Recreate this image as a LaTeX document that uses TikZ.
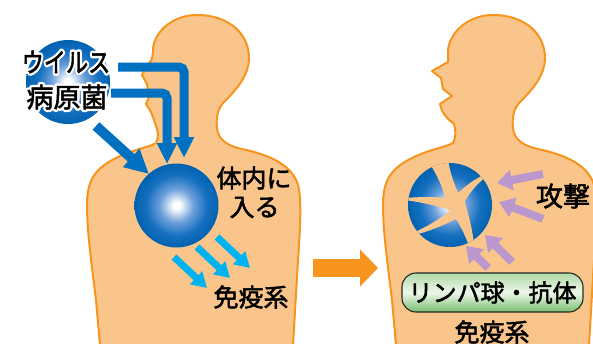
\documentclass[tikz,border=0pt]{standalone}
\usepackage{fontspec}
\newfontfamily\jp[FakeBold=2]{Noto Sans CJK JP}
\newfontfamily\jpplain{Noto Sans CJK JP}
\usetikzlibrary{arrows.meta}

\definecolor{skin}{RGB}{250,197,138}
\definecolor{skinline}{RGB}{247,148,30}
\definecolor{deepblue}{RGB}{0,112,192}
\definecolor{skyarrow}{RGB}{0,178,240}
\definecolor{lilac}{RGB}{186,152,206}
\definecolor{pushorange}{RGB}{247,148,30}
\definecolor{orbmid}{RGB}{110,160,218}
\definecolor{orbblue}{RGB}{22,112,192}
\definecolor{orbedge}{RGB}{0,98,176}
\definecolor{boxtop}{RGB}{175,218,165}
\definecolor{boxmid}{RGB}{238,247,234}
\definecolor{boxbot}{RGB}{118,190,108}

\pgfdeclareradialshading{orb}{\pgfpoint{0bp}{0bp}}{%
  color(0bp)=(white); color(2bp)=(white); color(10bp)=(orbmid);
  color(18bp)=(orbblue); color(25bp)=(orbedge); color(50bp)=(orbedge)}

% text with a white outline: a stroked white pass, then the normal black text
\newcommand\haloed[1]{%
  \makebox[0pt][l]{\jpplain\special{pdf:literal direct q 1 Tr 5.5 w 1 J 1 j 1 1 1 RG}#1\special{pdf:literal direct Q}}#1}

\begin{document}
\begin{tikzpicture}[x=1pt,y=-1pt,
  body/.style={fill=skin, draw=skinline, line width=2pt, line join=round},
  orbfill/.style={shading=orb},
  lbl/.style={font=\jp\fontsize{25}{30}\selectfont, inner sep=0pt, text=black},
  bigl/.style={font=\fontsize{27}{30}\selectfont\jp, inner sep=0pt, text=black},
  bluearrow/.style={draw=deepblue, line width=9pt, -{Triangle[length=21pt,width=19pt]}},
  diagarrow/.style={draw=deepblue, line width=10pt, -{Triangle[length=24pt,width=23pt]}},
  skyflow/.style={draw=skyarrow, line width=7pt, -{Triangle[length=15pt,width=17pt]}},
  lilacflow/.style={draw=lilac, line width=8pt, -{Triangle[length=15pt,width=20pt]}},
  pushflow/.style={draw=pushorange, line width=18pt, -{Triangle[length=18pt,width=36pt]}},
  greenbox/.style={draw=black!85, line width=1.1pt, rounded corners=14pt,
    top color=boxtop, bottom color=boxbot, middle color=boxmid,
    minimum width=181pt, minimum height=39pt, inner sep=0pt,
    font=\jp\fontsize{24}{28}\selectfont}
]
\useasboundingbox (0,0) rectangle (593,343);
\fill[white] (0,0) rectangle (593,343);

% left figure
\path[body] (100,345) -- (96,300) .. controls (91,260) and (87,230) .. (87,205)
  .. controls (87,180) and (95,168) .. (118,157)
  .. controls (135,149) and (150,147) .. (156,143)
  .. controls (159,138) and (158,131) .. (156,126)
  .. controls (154,120) .. (151,112) -- (146,104) -- (149,97) -- (148,90)
  -- (147,84) -- (142,75) -- (148,64) .. controls (152,60) .. (153,52)
  .. controls (152,35) and (170,15) .. (197,15)
  .. controls (230,15) and (250,35) .. (249,60)
  .. controls (248,75) and (238,88) .. (226,100)
  .. controls (217,108) and (216,118) .. (217,128)
  .. controls (218,140) and (228,146) .. (242,149)
  .. controls (270,155) and (292,165) .. (298,185)
  .. controls (302,200) and (300,230) .. (298,260) -- (293,345) -- cycle;

% right figure
\path[body] (396,345) -- (392,300) .. controls (387,260) and (383,230) .. (383,205)
  .. controls (383,180) and (391,168) .. (414,157)
  .. controls (431,149) and (446,147) .. (453,143)
  .. controls (456,138) and (456,130) .. (454,124)
  .. controls (446,118) and (441,111) .. (440,104) -- (452,96) -- (443,89)
  -- (441,78) -- (432,71) -- (448,62) -- (448,52)
  .. controls (448,35) and (466,15) .. (493,15)
  .. controls (526,15) and (546,35) .. (545,60)
  .. controls (544,75) and (534,88) .. (522,100)
  .. controls (513,108) and (512,118) .. (513,128)
  .. controls (514,140) and (524,146) .. (538,149)
  .. controls (566,155) and (588,165) .. (594,185)
  .. controls (598,200) and (596,230) .. (594,260) -- (589,345) -- cycle;

% pathogen ball with its label
\shade[orbfill] (68,82) circle[radius=42pt];
\coordinate (v1s) at (118,67);  \coordinate (v1t) at (184,158);
\coordinate (v2s) at (111,93);  \coordinate (v2t) at (167,164);
\coordinate (v3s) at (96,126);  \coordinate (v3t) at (149,174);
\draw[bluearrow, rounded corners=5pt] (v1s) -| (v1t);
\draw[bluearrow, rounded corners=5pt] (v2s) -| (v2t);
\draw[diagarrow] (v3s) -- (v3t);
\node[bigl] (virus) at (66,62) {\scalebox{0.82}[1]{\haloed{ウイルス}}};
\node[bigl] (germ) at (67,97) {\haloed{病原菌}};

% invading ball
\shade[orbfill] (176.5,205.5) circle[radius=42pt];
\node[lbl] (enter1) at (254,178) {体内に};
\node[lbl] (enter2) at (254.5,207.5) {入る};
\coordinate (s1s) at (174,257); \coordinate (s1t) at (207,288);
\coordinate (s2s) at (197,247); \coordinate (s2t) at (230,278);
\coordinate (s3s) at (217,237); \coordinate (s3t) at (250,268);
\draw[skyflow] (s1s) -- (s1t);
\draw[skyflow] (s2s) -- (s2t);
\draw[skyflow] (s3s) -- (s3t);
\node[lbl] (immuneL) at (251,297) {免疫系};

% transition arrow
\coordinate (ps) at (313,268); \coordinate (pt) at (378,268);
\draw[pushflow] (ps) -- (pt);

% broken ball
\shade[orbfill] (450,205) circle[radius=42pt];
\begin{scope}
  \clip (450,205) circle[radius=42pt];
  % thick arm to the top
  \fill[skin] (427,160) .. controls (440,178) and (444,192) .. (447,206)
    -- (461,199) .. controls (454,185) and (450,172) .. (448,160) -- cycle;
  % thin arm to the upper right
  \fill[skin] (455,196) .. controls (468,183) and (478,177) .. (490,172)
    -- (490,174) .. controls (477,183) and (470,192) .. (464,203) -- cycle;
  % thin arm to the left
  \fill[skin] (452,199) .. controls (435,196) and (420,197) .. (404,198)
    -- (404,200) .. controls (422,202) and (436,206) .. (450,210) -- cycle;
  % thin arm to the lower left
  \fill[skin] (450,211) .. controls (438,220) and (425,228) .. (410,234)
    -- (410,236) .. controls (428,232) and (442,226) .. (456,219) -- cycle;
  % arm to the bottom
  \fill[skin] (449,209) .. controls (459,222) and (466,236) .. (471,252)
    -- (475,252) .. controls (473,232) and (469,215) .. (464,200) -- cycle;
  \fill[skin] (456,205) circle[radius=9pt];
\end{scope}

\coordinate (a1s) at (543,174); \coordinate (a1t) at (497,183);
\coordinate (a2s) at (543,219); \coordinate (a2t) at (499,202);
\coordinate (a3s) at (512,262); \coordinate (a3t) at (485,235);
\coordinate (a4s) at (488,268); \coordinate (a4t) at (466,246);
\draw[lilacflow] (a1s) -- (a1t);
\draw[lilacflow] (a2s) -- (a2t);
\draw[lilacflow] (a3s) -- (a3t);
\draw[lilacflow] (a4s) -- (a4t);
\node[lbl, font=\jp\fontsize{27}{30}\selectfont] (attack) at (563,196) {攻撃};

\node[greenbox] (lymph) at (492.5,292.5) {リンパ球・抗体};
\node[lbl] (immuneR) at (492,332) {免疫系};
\end{tikzpicture}
\end{document}
